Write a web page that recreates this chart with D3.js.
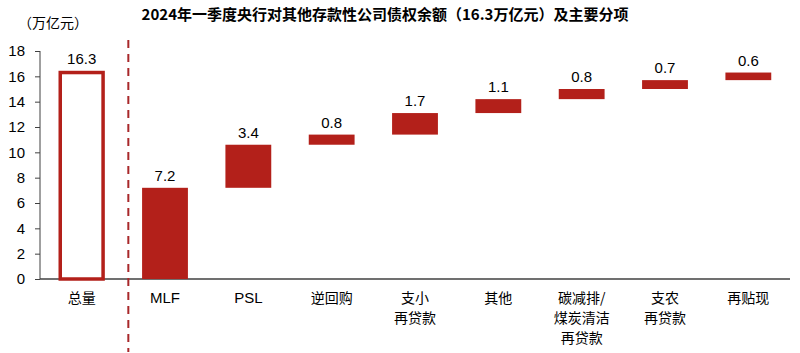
<!DOCTYPE html>
<html lang="zh">
<head>
<meta charset="utf-8">
<title>2024年一季度央行对其他存款性公司债权余额</title>
<style>
body { margin: 0; background: #fff; }
.axis text { font: 15px "Liberation Sans", Arial, sans-serif; fill: #000; }
.axis path, .axis line { stroke: #404040; }
.cat { font: 14px "Noto Sans CJK SC", sans-serif; fill: #000; }
.val { font: 15px "Liberation Sans", Arial, sans-serif; fill: #000; }
</style>
</head>
<body>
<svg width="800" height="353"></svg>
<script src="https://cdn.jsdelivr.net/npm/d3@7"></script>
<script>

// categories (multi-line labels split on \n)
const categories = ['总量', 'MLF', 'PSL', '逆回购', '支小\n再贷款', '其他',
  '碳减排/\n煤炭清洁\n再贷款', '支农\n再贷款', '再贴现'];
// total first, then the parts
const values = [16.3, 7.2, 3.4, 0.8, 1.7, 1.1, 0.8, 0.7, 0.6];
const yTicks = [0, 2, 4, 6, 8, 10, 12, 14, 16, 18];

const RED = '#b3201a';

let svg = d3.select('svg');
let plotLeft = 40, plotRight = 790, plotTop = 51, plotBottom = 279;

let x = d3.scaleBand().domain(categories).range([plotLeft, plotRight])
  .paddingInner(0.45).paddingOuter(0.225);
let y = d3.scaleLinear().domain([0, 18]).range([plotBottom, plotTop]);

// waterfall: each part starts where the previous one stopped
let bars = [];
let run = 0;
values.forEach((v, i) => {
  if (i === 0) bars.push({cat: categories[i], v: v, y0: 0, y1: v, total: true});
  else { bars.push({cat: categories[i], v: v, y0: run, y1: run + v}); run += v; }
});

// title
svg.append('text')
  .attr('x', 385).attr('y', 20)
  .attr('text-anchor', 'middle')
  .style('font', 'bold 15px "Noto Sans CJK SC", sans-serif')
  .text('2024年一季度央行对其他存款性公司债权余额（16.3万亿元）及主要分项');

svg.append('text')
  .attr('x', 18).attr('y', 28)
  .style('font', '14px "Noto Sans CJK SC", sans-serif')
  .text('（万亿元）');

// axes
let yAxis = svg.append('g')
  .attr('class', 'axis')
  .attr('transform', 'translate(' + plotLeft + ',0)')
  .call(d3.axisLeft(y).tickValues(yTicks).tickSize(5).tickPadding(10).tickSizeOuter(0));
yAxis.select('.domain').attr('d', 'M0,' + y(18) + 'V' + y(0));

svg.append('line')
  .attr('x1', plotLeft).attr('x2', plotRight)
  .attr('y1', y(0)).attr('y2', y(0))
  .attr('stroke', '#404040').attr('stroke-width', 1.5);

// dashed separator between total and parts
let sepX = x(categories[1]) - x.step() * 0.165;
svg.append('line')
  .attr('x1', sepX).attr('x2', sepX)
  .attr('y1', 40).attr('y2', 352)
  .attr('stroke', '#a8282a').attr('stroke-width', 2)
  .attr('stroke-dasharray', '8,6');

// bars
svg.append('g').selectAll('rect')
  .data(bars)
  .enter().append('rect')
    .attr('x', d => d.total ? x(d.cat) + 1.5 : x(d.cat))
    .attr('width', d => d.total ? x.bandwidth() - 3 : x.bandwidth())
    .attr('y', d => y(d.y1))
    .attr('height', d => y(d.y0) - y(d.y1))
    .attr('fill', d => d.total ? 'none' : RED)
    .attr('stroke', d => d.total ? RED : 'none')
    .attr('stroke-width', 3.5);

// value labels
svg.append('g').selectAll('text')
  .data(bars)
  .enter().append('text')
    .attr('class', 'val')
    .attr('x', d => x(d.cat) + x.bandwidth() / 2)
    .attr('y', d => y(d.y1) - (d.total ? 9 : 7))
    .attr('text-anchor', 'middle')
    .text(d => d.v.toFixed(1));

// category labels
let cats = svg.append('g').selectAll('text')
  .data(categories)
  .enter().append('text')
    .attr('class', 'cat')
    .attr('x', d => x(d) + x.bandwidth() / 2)
    .attr('y', 303)
    .attr('text-anchor', 'middle')
    .style('font', d => /^[A-Z]+$/.test(d) ? '15px "Liberation Sans", Arial, sans-serif' : null);
cats.selectAll('tspan')
  .data(d => d.split('\n'))
  .enter().append('tspan')
    .attr('x', function() { return d3.select(this.parentNode).attr('x'); })
    .attr('dy', (d, i) => i === 0 ? 0 : 20)
    .text(d => d);

</script>
</body>
</html>
